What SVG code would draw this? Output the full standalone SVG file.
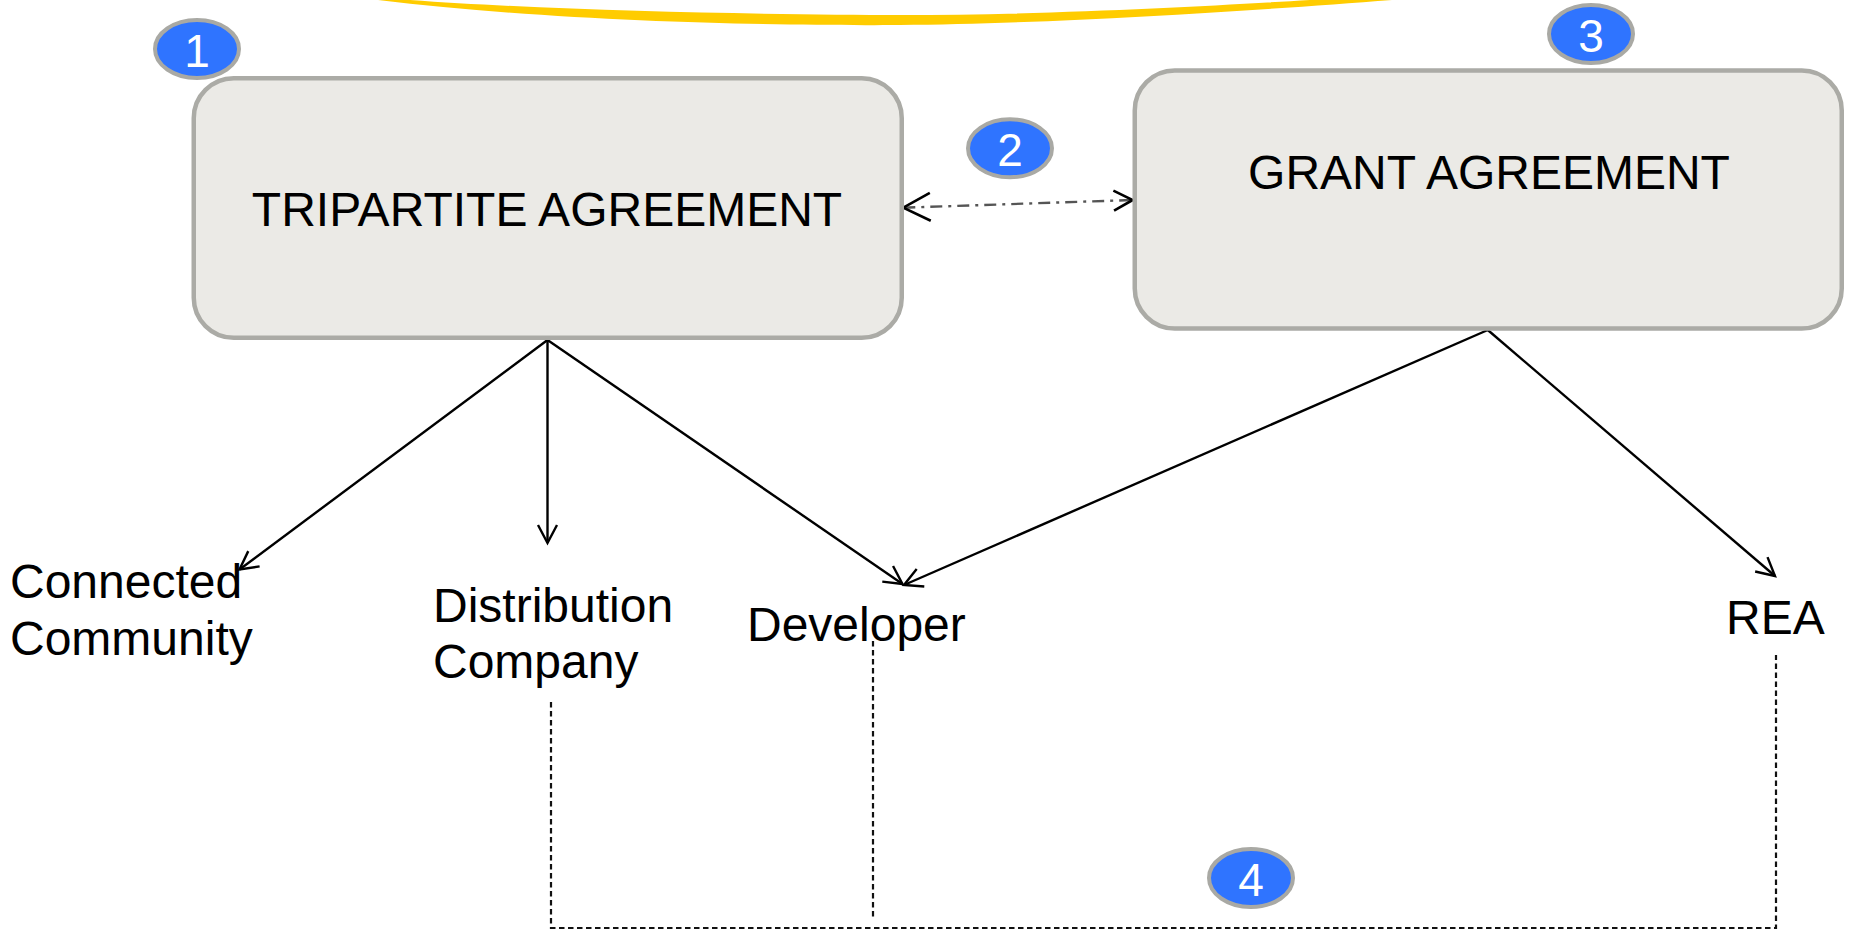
<svg xmlns="http://www.w3.org/2000/svg" width="1854" height="932" viewBox="0 0 1854 932">
  <style>
    .box { fill: #EBEAE6; stroke: #ABABA6; stroke-width: 4.5; }
    .title { font-family: "Liberation Sans", Arial, sans-serif; font-size: 48px; fill: #000; text-anchor: middle; }
    .label { font-family: "Liberation Sans", Arial, sans-serif; font-size: 48px; fill: #000; }
    .badge ellipse { fill: #2F74FF; stroke: #A9A9A4; stroke-width: 4; }
    .badge text { font-family: "Liberation Sans", Arial, sans-serif; font-size: 46px; fill: #fff; text-anchor: middle; }
    .link { fill: none; stroke: #000; stroke-width: 2.4; }
    .dashed { fill: none; stroke: #111; stroke-width: 2.2; stroke-dasharray: 5.5 3.5; }
    .dashdot { fill: none; stroke: #555; stroke-width: 2.4; stroke-dasharray: 12 6 3 6; }
  </style>
  <defs>
    <marker id="open" markerUnits="userSpaceOnUse" viewBox="-21 -12 24 24" markerWidth="24" markerHeight="24" refX="0" refY="0" orient="auto">
      <path d="M -18,-9.5 L 0,0 L -18,9.5" fill="none" stroke="#000" stroke-width="2.4"/>
    </marker>
    <marker id="openLarge" markerUnits="userSpaceOnUse" viewBox="-30 -16 33 32" markerWidth="33" markerHeight="32" refX="0" refY="0" orient="auto-start-reverse">
      <path d="M -27,-14 L 0,0 L -27,14" fill="none" stroke="#000" stroke-width="2.6"/>
    </marker>
    <marker id="openSmall" markerUnits="userSpaceOnUse" viewBox="-22 -12 25 24" markerWidth="25" markerHeight="24" refX="0" refY="0" orient="auto">
      <path d="M -19,-10 L 0,0 L -19,10" fill="none" stroke="#000" stroke-width="2.6"/>
    </marker>
  </defs>

  <rect width="1854" height="932" fill="#fff"/>

  <!-- yellow brush stroke along the top edge -->
  <path d="M 378,0 C 560,22 780,26 900,25 C 1050,24 1250,11 1392,0 L 1310,0 C 1210,6 1050,15 900,15 C 780,15 560,11 410,0 Z" fill="#FFCC00"/>

  <g id="connectors">
    <!-- tripartite agreement fan-out -->
    <line class="link" x1="547.5" y1="340" x2="239.5" y2="569.5" marker-end="url(#open)"/>
    <line class="link" x1="547.5" y1="340" x2="547.5" y2="543" marker-end="url(#open)"/>
    <line class="link" x1="547.5" y1="340" x2="902.5" y2="584" marker-end="url(#open)"/>
    <!-- grant agreement fan-out -->
    <line class="link" x1="1487.8" y1="330" x2="904" y2="585" marker-end="url(#open)"/>
    <line class="link" x1="1487.8" y1="330" x2="1775" y2="576" marker-end="url(#open)"/>
    <!-- link between the two agreements -->
    <line class="dashdot" x1="903.3" y1="207.7" x2="1132.7" y2="200" marker-start="url(#openLarge)" marker-end="url(#openSmall)"/>
    <!-- dashed bracket joining the parties -->
    <polyline class="dashed" points="551,702 551,928 1776,928 1776,655"/>
    <line class="dashed" x1="873" y1="641" x2="873" y2="917"/>
  </g>

  <g id="tripartite">
    <rect class="box" x="193.75" y="78.25" width="708" height="259.5" rx="40" ry="40"/>
    <text class="title" x="547" y="226">TRIPARTITE AGREEMENT</text>
  </g>

  <g id="grant">
    <rect class="box" x="1134.75" y="70.5" width="707" height="258" rx="40" ry="40"/>
    <text class="title" x="1489" y="189">GRANT AGREEMENT</text>
  </g>

  <g id="connected-community">
    <text class="label" x="10" y="598">Connected</text>
    <text class="label" x="10" y="655">Community</text>
  </g>

  <g id="distribution-company">
    <text class="label" x="433" y="621.5">Distribution</text>
    <text class="label" x="433" y="678">Company</text>
  </g>

  <g id="developer">
    <text class="label" x="747" y="641">Developer</text>
  </g>

  <g id="rea">
    <text class="label" x="1726" y="634">REA</text>
  </g>

  <g id="badge-1" class="badge">
    <ellipse cx="197" cy="49" rx="42" ry="29"/>
    <text x="197" y="66.5">1</text>
  </g>
  <g id="badge-2" class="badge">
    <ellipse cx="1010" cy="148.3" rx="42" ry="29"/>
    <text x="1010" y="165.5">2</text>
  </g>
  <g id="badge-3" class="badge">
    <ellipse cx="1591" cy="34" rx="42" ry="29"/>
    <text x="1591" y="51.5">3</text>
  </g>
  <g id="badge-4" class="badge">
    <ellipse cx="1251" cy="878" rx="42" ry="29"/>
    <text x="1251" y="895.5">4</text>
  </g>
</svg>
